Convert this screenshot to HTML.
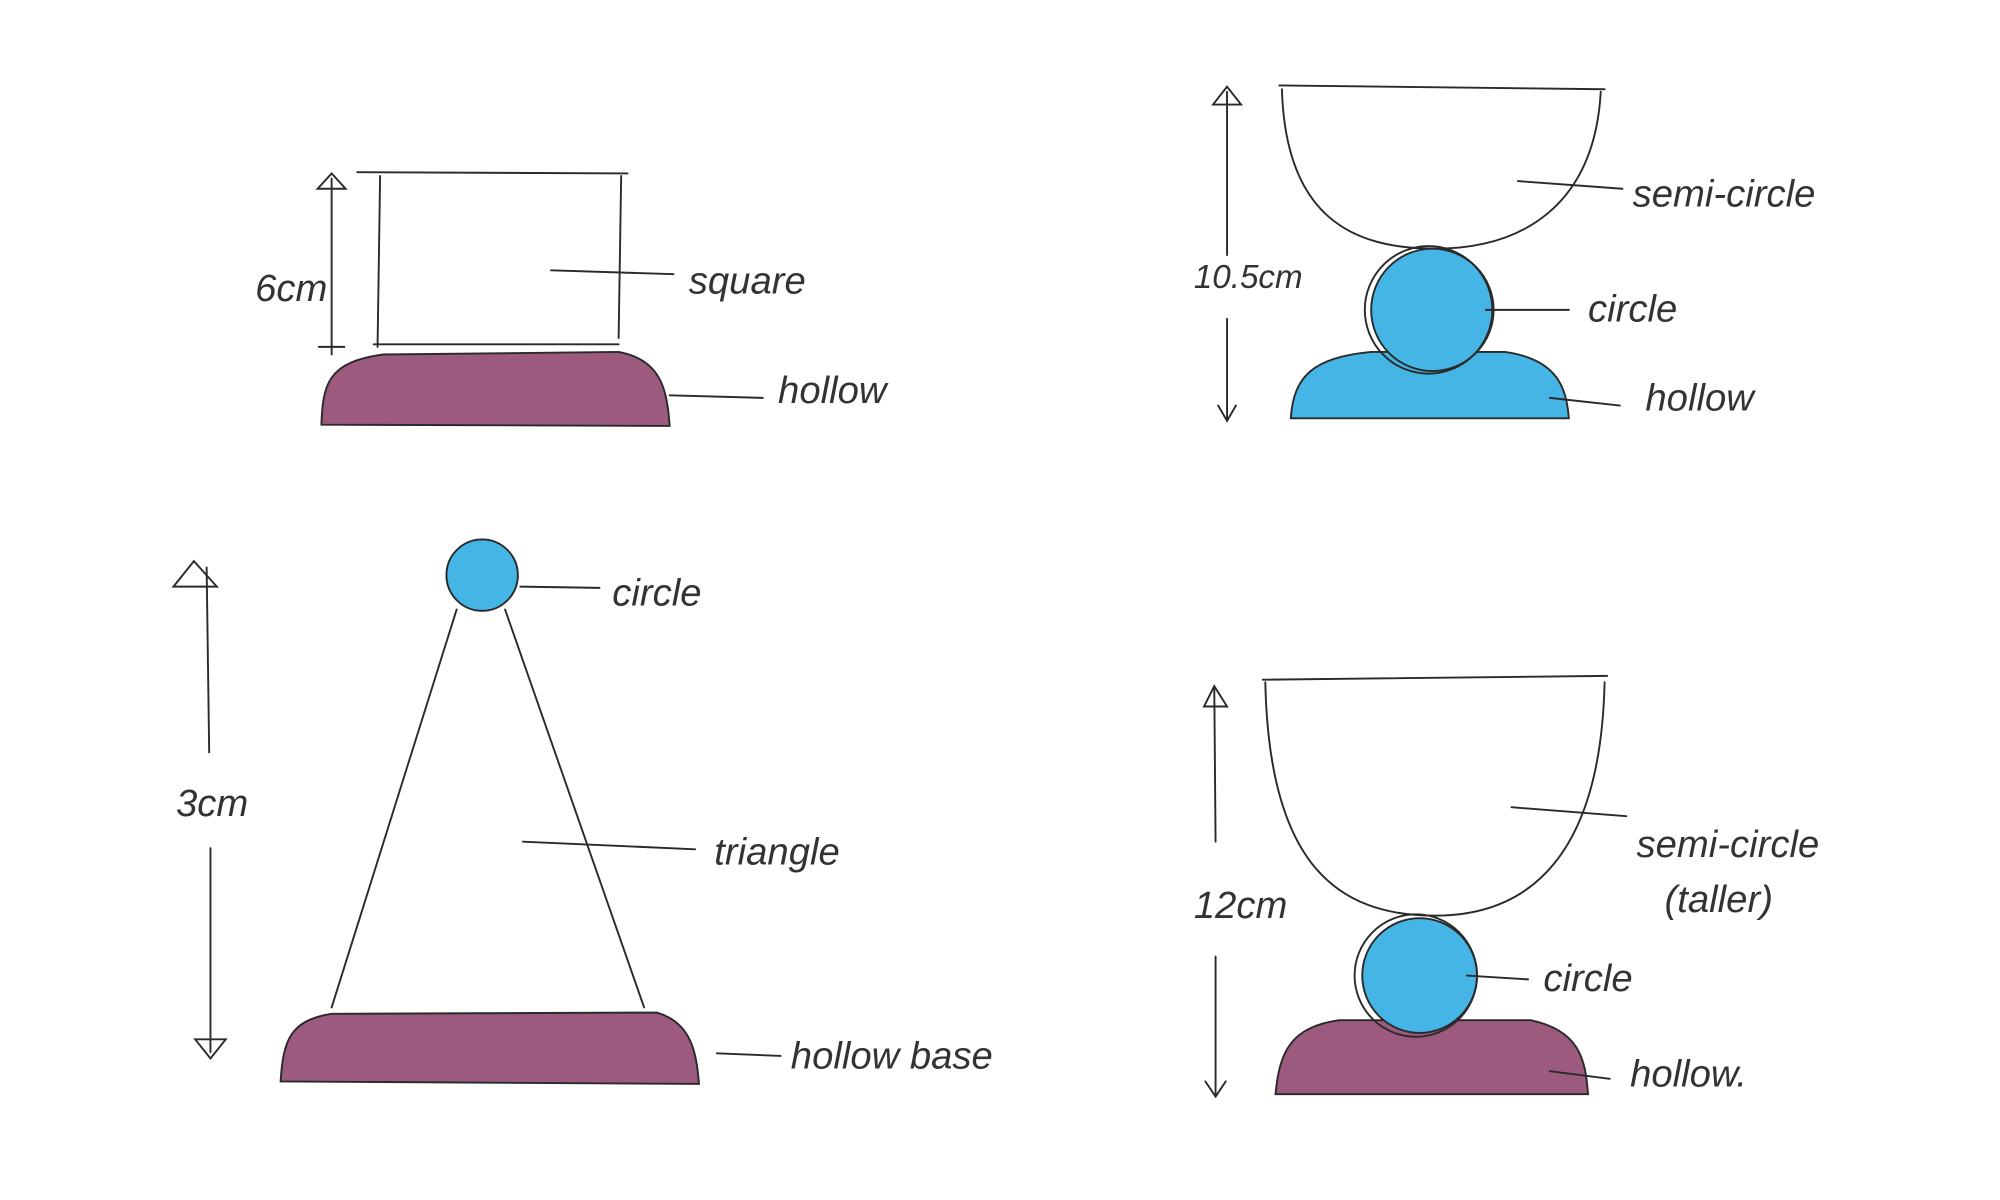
<!DOCTYPE html>
<html><head><meta charset="utf-8"><style>
html,body{margin:0;padding:0;background:#fff;}
svg{display:block}
text{font-family:"Liberation Sans",sans-serif;font-size:30px;fill:#333;font-style:italic;font-weight:300}
</style></head><body>
<svg width="2000" height="1200" viewBox="0 0 1568 941" preserveAspectRatio="none" xmlns="http://www.w3.org/2000/svg">
<rect width="1568" height="941" fill="#fff"/>
<g stroke="#2a2a2a" stroke-width="1.5" fill="none" stroke-linecap="round">
<!-- sketch 1 -->
<line x1="280" y1="135" x2="492" y2="136"/>
<line x1="298" y1="138" x2="296" y2="272"/>
<line x1="487" y1="138" x2="485" y2="265"/>
<line x1="293" y1="270" x2="485" y2="270"/>
<path d="M252,333 C253,300 258,284 300,278 L485,276 C518,282 523,305 525,334 Z" fill="#9c5a7e"/>
<line x1="260" y1="140" x2="260" y2="278"/>
<path d="M249,148 L260,136 L271,148 Z"/>
<line x1="250" y1="272" x2="270" y2="272"/>
<line x1="432" y1="212" x2="528" y2="215"/>
<line x1="525" y1="310" x2="598" y2="312"/>
<!-- sketch 2 -->
<line x1="1003" y1="67" x2="1258" y2="70"/>
<path d="M1005,70 C1008,170 1060,195 1125,195 C1195,195 1250,160 1255,72"/>
<path d="M1012,328 C1014,295 1030,280 1075,276 L1180,276 C1222,282 1228,305 1230,328 Z" fill="#45b5e6"/>
<circle cx="1123" cy="243" r="48" fill="#45b5e6"/>
<circle cx="1120" cy="243" r="50"/>
<line x1="962" y1="72" x2="962" y2="200"/>
<line x1="962" y1="250" x2="962" y2="328"/>
<path d="M951,82 L962,68 L973,82 Z"/>
<path d="M955,318 L962,330 L969,318"/>
<line x1="1190" y1="142" x2="1272" y2="148"/>
<line x1="1165" y1="243" x2="1230" y2="243"/>
<line x1="1215" y1="312" x2="1270" y2="318"/>
<!-- sketch 3 -->
<circle cx="378" cy="451" r="28" fill="#45b5e6"/>
<line x1="358" y1="478" x2="260" y2="790"/>
<line x1="396" y1="478" x2="505" y2="790"/>
<path d="M220,848 C222,815 228,800 260,795 L515,794 C542,802 546,825 548,850 Z" fill="#9c5a7e"/>
<line x1="162" y1="445" x2="164" y2="590"/>
<line x1="165" y1="665" x2="165" y2="825"/>
<path d="M136,460 L152,440 L170,460 Z"/>
<path d="M153,815 L165,830 L177,815 Z"/>
<line x1="408" y1="460" x2="470" y2="461"/>
<line x1="410" y1="660" x2="545" y2="666"/>
<line x1="562" y1="826" x2="612" y2="828"/>
<!-- sketch 4 -->
<line x1="990" y1="533" x2="1260" y2="530"/>
<path d="M992,535 C995,680 1050,718 1125,718 C1200,718 1255,670 1258,535"/>
<path d="M1000,858 C1003,825 1012,805 1050,800 L1200,800 C1238,808 1243,830 1245,858 Z" fill="#9c5a7e"/>
<circle cx="1113" cy="765" r="45" fill="#45b5e6"/>
<circle cx="1110" cy="765" r="48"/>
<line x1="952" y1="540" x2="953" y2="660"/>
<line x1="953" y1="750" x2="953" y2="858"/>
<path d="M944,554 L952,538 L962,554 Z"/>
<path d="M945,848 L953,860 L961,848"/>
<line x1="1185" y1="633" x2="1275" y2="640"/>
<line x1="1150" y1="765" x2="1198" y2="768"/>
<line x1="1215" y1="840" x2="1262" y2="846"/>
</g>
<text x="200" y="236">6cm</text>
<text x="540" y="230">square</text>
<text x="610" y="316">hollow</text>
<text x="936" y="226" style="font-size:26px">10.5cm</text>
<text x="1280" y="162">semi-circle</text>
<text x="1245" y="252">circle</text>
<text x="1290" y="322">hollow</text>
<text x="480" y="475">circle</text>
<text x="138" y="640">3cm</text>
<text x="560" y="678">triangle</text>
<text x="620" y="838">hollow base</text>
<text x="936" y="720">12cm</text>
<text x="1283" y="672">semi-circle</text>
<text x="1305" y="715">(taller)</text>
<text x="1210" y="777">circle</text>
<text x="1278" y="852">hollow.</text>
</svg>
</body></html>
